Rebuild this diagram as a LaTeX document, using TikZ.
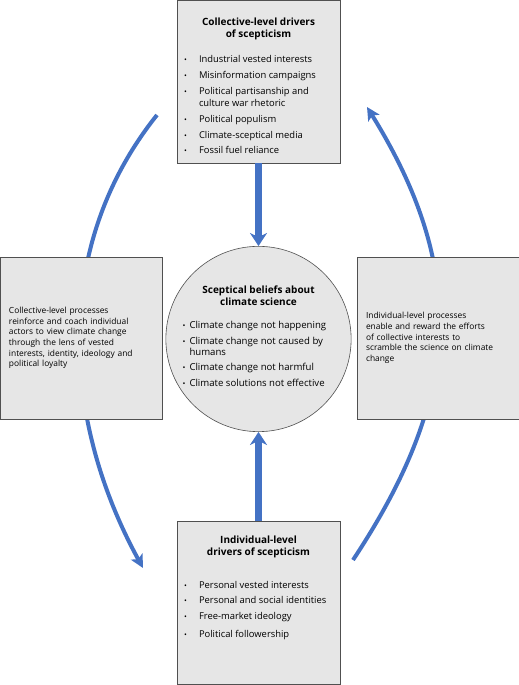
\documentclass[tikz,border=0pt]{standalone}
\usepackage{fontspec}
\setmainfont{Open Sans}
\usepackage{graphicx}
\usepackage{tikz}
\usetikzlibrary{arrows.meta}
\definecolor{arcblue}{RGB}{68,114,196}
\definecolor{boxgray}{RGB}{230,230,230}
\definecolor{edgegray}{RGB}{80,80,80}
\newcommand{\bitem}[1]{\makebox[15pt][l]{\scalebox{0.8}{\textbullet}}#1}
\newcommand{\bcont}[1]{\hspace*{15pt}#1}
\newcommand{\citem}[1]{\makebox[7pt][l]{\scalebox{0.8}{\textbullet}}#1}
\newcommand{\ccont}[1]{\hspace*{7pt}#1}
\newcommand{\headfont}{\fontsize{10}{12}\selectfont\bfseries}

\begin{document}
\begin{tikzpicture}[x=1pt,y=1pt,>={Stealth[length=13pt,width=17pt,inset=4pt]},
  driver box/.style={rectangle,draw=edgegray,fill=boxgray,line width=0.8pt,inner sep=0pt,
    minimum width=163pt,minimum height=163pt,font=\fontsize{9.4}{11.7}\selectfont},
  process box/.style={rectangle,draw=edgegray,fill=boxgray,line width=0.8pt,inner sep=9pt,
    minimum width=162pt,minimum height=162pt,text width=144pt,align=left,
    font=\fontsize{8.4}{10.7}\selectfont},
  belief node/.style={circle,draw=edgegray,fill=boxgray,line width=0.6pt,inner sep=0pt,
    minimum size=180pt,font=\fontsize{9.6}{11}\selectfont},
  link/.style={->,draw=arcblue,line width=7pt},
  loop arc/.style={-{Stealth[length=13pt,width=13pt,inset=3pt]},draw=arcblue,line width=4pt}]

  \useasboundingbox (0,0) rectangle (519,685);

  % feedback loops, drawn first so the boxes cover them
  \coordinate (leftstart) at (157,570);
  \coordinate (leftend) at (143,117);
  \coordinate (rightstart) at (353,125);
  \coordinate (rightend) at (367,578);
  \draw[loop arc] (leftstart) .. controls (49,435) and (64,261) .. (leftend);
  \draw[loop arc] (rightstart) .. controls (458,284) and (471,410) .. (rightend);

  \node[driver box] (coll) at (258.5,603.5) {\parbox[c][128pt][t]{149pt}{%
    {\centering\headfont Collective-level drivers\\of scepticism\par}\vspace{14pt}
    \raggedright
    \bitem{Industrial vested interests}\\[4.2pt]
    \bitem{Misinformation campaigns}\\[4.2pt]
    \bitem{Political partisanship and}\\
    \bcont{culture war rhetoric}\\[4.2pt]
    \bitem{Political populism}\\[4.2pt]
    \bitem{Climate-sceptical media}\\[4.2pt]
    \bitem{Fossil fuel reliance}}};

  \node[driver box] (indiv) at (258.5,82) {\parbox[c][134pt][t]{149pt}{%
    {\centering\headfont Individual-level\\drivers of scepticism\par}\vspace{21pt}
    \raggedright
    \bitem{Personal vested interests}\\[4pt]
    \bitem{Personal and social identities}\\[4pt]
    \bitem{Free-market ideology}\\[6pt]
    \bitem{Political followership}}};

  \node[belief node] (beliefs) at (258.5,346) {\parbox{152pt}{%
    {\centering\headfont Sceptical beliefs about\\climate science\par}\vspace{12pt}
    \raggedright
    \citem{Climate change not happening}\\[4.5pt]
    \citem{Climate change not caused by}\\
    \ccont{humans}\\[4.5pt]
    \citem{Climate change not harmful}\\[4.5pt]
    \citem{Climate solutions not effective}\par\vspace{6pt}}};

  \node[process box] (leftproc) at (81,347) {Collective-level processes\\
    reinforce and coach individual\\actors to view climate change\\
    through the lens of vested\\interests, identity, ideology and\\political loyalty};

  \node[process box] (rightproc) at (438,347) {Individual-level processes\\
    enable and reward the efforts\\of collective interests to\\
    scramble the science on climate\\change};

  \draw[link] (coll) -- (beliefs);
  \draw[link] (indiv) -- (beliefs);
\end{tikzpicture}
\end{document}
